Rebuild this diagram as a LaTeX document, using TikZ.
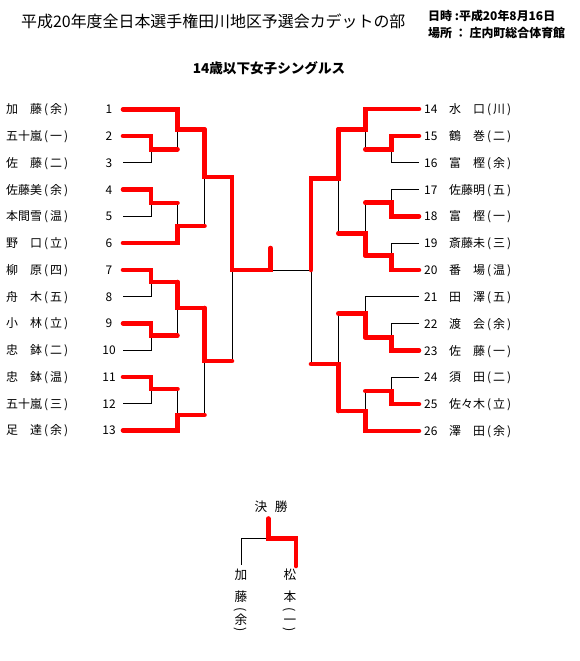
\documentclass[tikz,border=0pt]{standalone}
\usepackage{fontspec}
\setmainfont{Noto Sans CJK JP}
\usepackage{tikz}
\usetikzlibrary{calc}
\usepackage{xcolor}
\definecolor{winred}{RGB}{255,0,0}
\newcommand{\aff}[1]{\,(\,#1\,)}
\tikzset{
  win/.style={winred, line width=3.9pt, line cap=round},
  lose/.style={black, line width=0.8pt},
  nm/.style={anchor=west, inner sep=0pt, text height=8.2pt, text depth=0.5pt, font=\fontsize{10.2}{12}\selectfont},
  num/.style={nm, anchor=center},
  rnum/.style={nm},
  fn/.style={num, font=\fontsize{10.8}{13}\selectfont},
}

\begin{document}
\begin{tikzpicture}[x=0.03cm, y=-0.03cm]
    \useasboundingbox (0,0) rectangle (580,661);

    % Headings
    \node[anchor=west, inner sep=0pt, font=\fontsize{13.6}{16}\selectfont] (title) at (21,21) {平成20年度全日本選手権田川地区予選会カデットの部};
    \node[anchor=west, inner sep=0pt, font=\bfseries\fontsize{10.2}{12}\selectfont] (date) at (428,16) {日時 :平成20年8月16日};
    \node[anchor=west, inner sep=0pt, font=\bfseries\fontsize{10.2}{12}\selectfont] (place) at (428,32.5) {場所 ： 庄内町総合体育館};
    \node[font=\bfseries\fontsize{11.6}{14}\selectfont] (event) at (269,68) {14歳以下女子シングルス};

    % Left players
    \node[nm] (n1) at (6,109.3) {加　藤\aff{余}};
    \node[nm] (n2) at (6,136) {五十嵐\aff{一}};
    \node[nm] (n3) at (6,162.8) {佐　藤\aff{二}};
    \node[nm] (n4) at (6,189.5) {佐藤美\aff{余}};
    \node[nm] (n5) at (6,216.3) {本間雪\aff{温}};
    \node[nm] (n6) at (6,243) {野　口\aff{立}};
    \node[nm] (n7) at (6,269.8) {柳　原\aff{四}};
    \node[nm] (n8) at (6,296.5) {舟　木\aff{五}};
    \node[nm] (n9) at (6,323.3) {小　林\aff{立}};
    \node[nm] (n10) at (6,350) {忠　鉢\aff{二}};
    \node[nm] (n11) at (6,376.8) {忠　鉢\aff{温}};
    \node[nm] (n12) at (6,403.5) {五十嵐\aff{三}};
    \node[nm] (n13) at (6,430.3) {足　達\aff{余}};
    \node[num] (p1) at (109,109.3) {1};
    \node[num] (p2) at (109,136) {2};
    \node[num] (p3) at (109,162.8) {3};
    \node[num] (p4) at (109,189.5) {4};
    \node[num] (p5) at (109,216.3) {5};
    \node[num] (p6) at (109,243) {6};
    \node[num] (p7) at (109,269.8) {7};
    \node[num] (p8) at (109,296.5) {8};
    \node[num] (p9) at (109,323.3) {9};
    \node[num] (p10) at (109,350) {10};
    \node[num] (p11) at (109,376.8) {11};
    \node[num] (p12) at (109,403.5) {12};
    \node[num] (p13) at (109,430.3) {13};

    % Right players
    \node[rnum] (p14) at (424,109) {14};
    \node[rnum] (p15) at (424,135.8) {15};
    \node[rnum] (p16) at (424,162.7) {16};
    \node[rnum] (p17) at (424,189.5) {17};
    \node[rnum] (p18) at (424,216.3) {18};
    \node[rnum] (p19) at (424,243.2) {19};
    \node[rnum] (p20) at (424,270) {20};
    \node[rnum] (p21) at (424,296.8) {21};
    \node[rnum] (p22) at (424,323.6) {22};
    \node[rnum] (p23) at (424,350.5) {23};
    \node[rnum] (p24) at (424,377.3) {24};
    \node[rnum] (p25) at (424,404.1) {25};
    \node[rnum] (p26) at (424,431) {26};
    \node[nm] (n14) at (449,109) {水　口\aff{川}};
    \node[nm] (n15) at (449,135.8) {鶴　巻\aff{二}};
    \node[nm] (n16) at (449,162.7) {富　樫\aff{余}};
    \node[nm] (n17) at (449,189.5) {佐藤明\aff{五}};
    \node[nm] (n18) at (449,216.3) {富　樫\aff{一}};
    \node[nm] (n19) at (449,243.2) {斎藤未\aff{三}};
    \node[nm] (n20) at (449,270) {番　場\aff{温}};
    \node[nm] (n21) at (449,296.8) {田　澤\aff{五}};
    \node[nm] (n22) at (449,323.6) {渡　会\aff{余}};
    \node[nm] (n23) at (449,350.5) {佐　藤\aff{一}};
    \node[nm] (n24) at (449,377.3) {須　田\aff{二}};
    \node[nm] (n25) at (449,404.1) {佐々木\aff{立}};
    \node[nm] (n26) at (449,431) {澤　田\aff{余}};

    % Match points, left half
    \coordinate (L23) at (151,149.4);
    \coordinate (L1) at (177.5,129.4);
    \coordinate (L45) at (151,202.9);
    \coordinate (L6) at (177.5,226);
    \coordinate (LA) at (204.5,177);
    \coordinate (L78) at (151,282);
    \coordinate (L910) at (151,335.5);
    \coordinate (LB7) at (177.5,308);
    \coordinate (L1112) at (151,389);
    \coordinate (L13) at (177.5,415);
    \coordinate (LB) at (204.5,361);
    \coordinate (LS) at (232,270);
    \coordinate (F) at (270.5,270);
    \coordinate (Ftop) at (270.5,248);

    % Match points, right half
    \coordinate (R1516) at (391.7,149.3);
    \coordinate (R14) at (365.3,129.3);
    \coordinate (R1718) at (391.7,202.7);
    \coordinate (R1920) at (391.7,255.5);
    \coordinate (RQ) at (365.3,233.3);
    \coordinate (RA) at (338.3,178.3);
    \coordinate (R2223) at (391.7,337.3);
    \coordinate (R21) at (365.3,313.5);
    \coordinate (R2425) at (391.7,391);
    \coordinate (R26) at (365.3,411);
    \coordinate (RB) at (338.3,364);
    \coordinate (RS) at (311,270);

    % Losing lines
    \draw[lose] ($(p3)+(14,0)$) -| (L23);
    \draw[lose] (L23 -| L1) -- (L1);
    \draw[lose] ($(p5)+(14,0)$) -| (L45);
    \draw[lose] (L45 -| L6) -- (L6);
    \draw[lose] (L6 -| LA) -- (LA);
    \draw[lose] ($(p8)+(14,0)$) -| (L78);
    \draw[lose] ($(p10)+(14,0)$) -| (L910);
    \draw[lose] (L910 -| LB7) -- (LB7);
    \draw[lose] ($(p12)+(14,0)$) -| (L1112);
    \draw[lose] (L1112 -| L13) -- (L13);
    \draw[lose] (L13 -| LB) -- (LB);
    \draw[lose] (LB -| LS) -- (LS);
    \draw[lose] ($(p16.west)+(-5,0)$) -| (R1516);
    \draw[lose] (R1516 -| R14) -- (R14);
    \draw[lose] ($(p17.west)+(-5,0)$) -| (R1718);
    \draw[lose] ($(p19.west)+(-5,0)$) -| (R1920);
    \draw[lose] (R1718 -| RQ) -- (RQ);
    \draw[lose] (RQ -| RA) -- (RA);
    \draw[lose] ($(p21.west)+(-5,0)$) -| (R21);
    \draw[lose] ($(p22.west)+(-5,0)$) -| (R2223);
    \draw[lose] ($(p24.west)+(-5,0)$) -| (R2425);
    \draw[lose] (R2425 -| R26) -- (R26);
    \draw[lose] (R21 -| RB) -- (RB);
    \draw[lose] (RB -| RS) -- (RS) -- (F);

    % Winning lines, left half
    \draw[win] ($(p2)+(14,0)$) -| (L23) -- (L23 -| L1);
    \draw[win] ($(p1)+(14,0)$) -| (L1) -- (L1 -| LA);
    \draw[win] ($(p4)+(14,0)$) -| (L45) -- (L45 -| L6);
    \draw[win] ($(p6)+(14,0)$) -| (L6) -- (L6 -| LA);
    \draw[win] (L1 -| LA) -- (LA) -- (LA -| LS) -- (LS) -- (F) -- (Ftop);
    \draw[win] ($(p7)+(14,0)$) -| (L78) -- (L78 -| LB7);
    \draw[win] ($(p9)+(14,0)$) -| (L910) -- (L910 -| LB7);
    \draw[win] (L78 -| LB7) -- (LB7) -- (LB7 -| LB);
    \draw[win] ($(p11)+(14,0)$) -| (L1112) -- (L1112 -| L13);
    \draw[win] ($(p13)+(14,0)$) -| (L13) -- (L13 -| LB);
    \draw[win] (LB7 -| LB) -- (LB) -- (LB -| LS);

    % Winning lines, right half
    \draw[win] ($(p14.west)+(-5,0)$) -| (R14) -- (R14 -| RA);
    \draw[win] ($(p15.west)+(-5,0)$) -| (R1516) -- (R1516 -| R14);
    \draw[win] ($(p18.west)+(-5,0)$) -| (R1718) -- (R1718 -| RQ);
    \draw[win] ($(p20.west)+(-5,0)$) -| (R1920) -- (R1920 -| RQ);
    \draw[win] (R1920 -| RQ) -- (RQ) -- (RQ -| RA);
    \draw[win] (R14 -| RA) -- (RA) -- (RA -| RS) -- (RS);
    \draw[win] ($(p23.west)+(-5,0)$) -| (R2223) -- (R2223 -| R21);
    \draw[win] (R2223 -| R21) -- (R21) -- (R21 -| RB);
    \draw[win] ($(p25.west)+(-5,0)$) -| (R2425) -- (R2425 -| R26);
    \draw[win] ($(p26.west)+(-5,0)$) -| (R26) -- (R26 -| RB);
    \draw[win] (R26 -| RB) -- (RB) -- (RB -| RS);

    % Final
    \node[fn] (fin) at (271,506.7) {決\hspace{0.6em}勝};
    \node[fn] (fa1) at (241,575) {加};
    \node[fn] (fa2) at (241,596.5) {藤};
    \node[fn] (fa3) at (241,619.5) {余};
    \node[fn, rotate=-90] (fa4) at (241,609.5) {(};
    \node[fn, rotate=-90] (fa5) at (241,629.5) {)};
    \node[fn] (fb1) at (290,575) {松};
    \node[fn] (fb2) at (290,596.5) {本};
    \node[fn] (fb3) at (290,619.5) {一};
    \node[fn, rotate=-90] (fb4) at (290,609.5) {(};
    \node[fn, rotate=-90] (fb5) at (290,629.5) {)};
    \coordinate (ft) at (268.3,518.5);
    \coordinate (fj) at (268.3,538.3);
    \coordinate (fl) at (241.7,565);
    \coordinate (fr) at (296,566);
    \draw[lose] (fj) -| (fl);
    \draw[win] (ft) -- (fj) -| (fr);
\end{tikzpicture}
\end{document}
